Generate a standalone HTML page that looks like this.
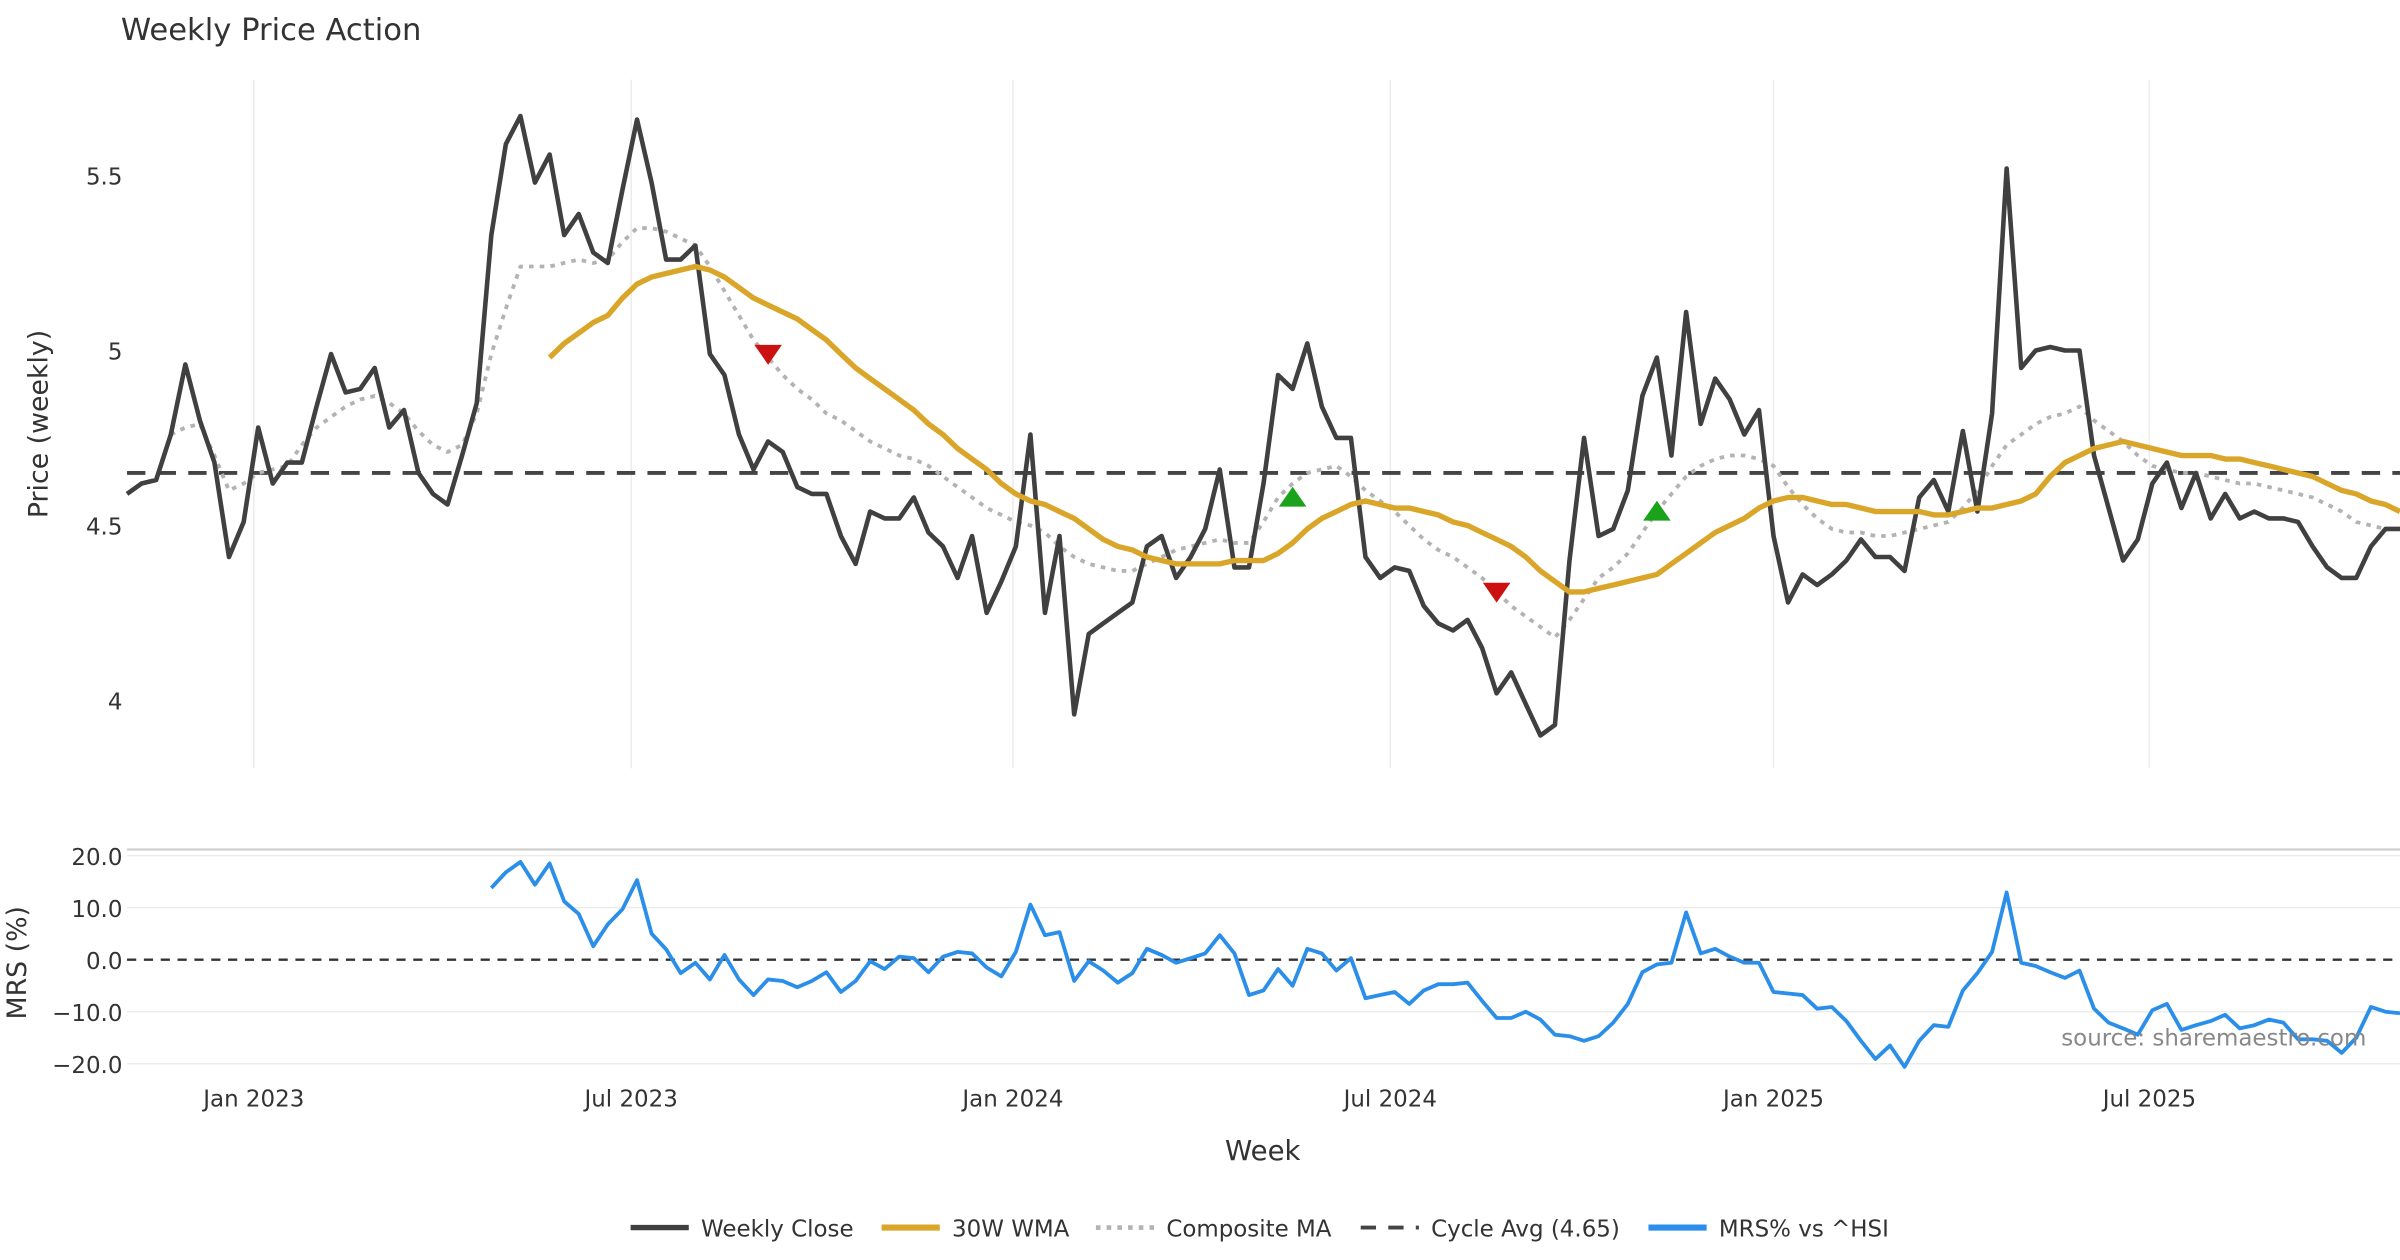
<!DOCTYPE html>
<html><head><meta charset="utf-8"><style>
html,body{margin:0;padding:0;background:#fff;}
svg{display:block;font-family:"DejaVu Sans","Liberation Sans",sans-serif;}
</style></head><body>
<svg id="chart" width="2400" height="1260" viewBox="0 0 1568 823.2" xmlns="http://www.w3.org/2000/svg">
<rect width="1568" height="823.2" fill="#fff"/>
<text x="79" y="26" font-size="20" fill="#333">Weekly Price Action</text>
<g id="grid"></g>
<g id="series"></g>
<g id="labels"></g>
</svg>
<script>
const closes=[4.59,4.62,4.63,4.76,4.96,4.80,4.68,4.41,4.51,4.78,4.62,4.68,4.68,4.84,4.99,4.88,4.89,4.95,4.78,4.83,4.65,4.59,4.56,4.70,4.85,5.33,5.59,5.67,5.48,5.56,5.33,5.39,5.28,5.25,5.46,5.66,5.48,5.26,5.26,5.30,4.99,4.93,4.76,4.66,4.74,4.71,4.61,4.59,4.59,4.47,4.39,4.54,4.52,4.52,4.58,4.48,4.44,4.35,4.47,4.25,4.34,4.44,4.76,4.25,4.47,3.96,4.19,4.22,4.25,4.28,4.44,4.47,4.35,4.41,4.49,4.66,4.38,4.38,4.62,4.93,4.89,5.02,4.84,4.75,4.75,4.41,4.35,4.38,4.37,4.27,4.22,4.20,4.23,4.15,4.02,4.08,3.99,3.90,3.93,4.40,4.75,4.47,4.49,4.60,4.87,4.98,4.70,5.11,4.79,4.92,4.86,4.76,4.83,4.47,4.28,4.36,4.33,4.36,4.40,4.46,4.41,4.41,4.37,4.58,4.63,4.54,4.77,4.54,4.82,5.52,4.95,5.00,5.01,5.00,5.00,4.70,4.55,4.40,4.46,4.62,4.68,4.55,4.65,4.52,4.59,4.52,4.54,4.52,4.52,4.51,4.44,4.38,4.35,4.35,4.44,4.49,4.49];
const wmaStart=29;
const wma=[4.98,5.02,5.05,5.08,5.10,5.15,5.19,5.21,5.22,5.23,5.24,5.23,5.21,5.18,5.15,5.13,5.11,5.09,5.06,5.03,4.99,4.95,4.92,4.89,4.86,4.83,4.79,4.76,4.72,4.69,4.66,4.62,4.59,4.57,4.56,4.54,4.52,4.49,4.46,4.44,4.43,4.41,4.40,4.39,4.39,4.39,4.39,4.40,4.40,4.40,4.42,4.45,4.49,4.52,4.54,4.56,4.57,4.56,4.55,4.55,4.54,4.53,4.51,4.50,4.48,4.46,4.44,4.41,4.37,4.34,4.31,4.31,4.32,4.33,4.34,4.35,4.36,4.39,4.42,4.45,4.48,4.50,4.52,4.55,4.57,4.58,4.58,4.57,4.56,4.56,4.55,4.54,4.54,4.54,4.54,4.53,4.53,4.54,4.55,4.55,4.56,4.57,4.59,4.64,4.68,4.70,4.72,4.73,4.74,4.73,4.72,4.71,4.70,4.70,4.70,4.69,4.69,4.68,4.67,4.66,4.65,4.64,4.62,4.60,4.59,4.57,4.56,4.54];
const compStart=3;
const composite=[4.76,4.78,4.79,4.70,4.60,4.62,4.65,4.66,4.67,4.73,4.78,4.81,4.84,4.86,4.87,4.85,4.82,4.77,4.73,4.71,4.73,4.82,4.99,5.12,5.24,5.24,5.24,5.25,5.26,5.25,5.26,5.31,5.35,5.35,5.34,5.32,5.30,5.24,5.17,5.10,5.03,4.98,4.93,4.89,4.86,4.82,4.80,4.77,4.74,4.72,4.70,4.69,4.67,4.64,4.61,4.58,4.55,4.53,4.51,4.50,4.48,4.44,4.41,4.39,4.38,4.37,4.37,4.39,4.41,4.43,4.44,4.45,4.46,4.45,4.45,4.51,4.58,4.62,4.65,4.66,4.67,4.64,4.60,4.57,4.54,4.50,4.46,4.43,4.41,4.38,4.35,4.31,4.27,4.24,4.21,4.18,4.23,4.29,4.35,4.38,4.42,4.48,4.54,4.59,4.64,4.67,4.69,4.70,4.70,4.69,4.67,4.61,4.56,4.52,4.49,4.48,4.48,4.47,4.47,4.48,4.49,4.50,4.51,4.55,4.60,4.67,4.73,4.76,4.79,4.81,4.82,4.84,4.80,4.77,4.74,4.70,4.67,4.66,4.65,4.65,4.64,4.63,4.62,4.62,4.61,4.60,4.59,4.58,4.56,4.54,4.51,4.50,4.49,4.49];
const mrs=[13.8,16.8,18.8,14.4,18.5,11.2,8.8,2.6,6.8,9.7,15.3,5.0,2.0,-2.6,-0.6,-3.8,0.9,-3.8,-6.8,-3.8,-4.1,-5.3,-4.1,-2.4,-6.2,-4.1,-0.3,-1.8,0.6,0.3,-2.4,0.6,1.5,1.2,-1.5,-3.2,1.5,10.6,4.7,5.3,-4.1,-0.3,-2.1,-4.4,-2.6,2.1,0.9,-0.6,0.3,1.2,4.7,1.2,-6.8,-5.9,-1.8,-5.0,2.1,1.2,-2.1,0.3,-7.4,-6.8,-6.2,-8.5,-5.9,-4.7,-4.7,-4.4,-7.9,-11.2,-11.2,-10.0,-11.5,-14.4,-14.7,-15.6,-14.7,-12.1,-8.5,-2.4,-0.9,-0.6,9.1,1.2,2.1,0.6,-0.6,-0.6,-6.2,-6.5,-6.8,-9.4,-9.1,-11.8,-15.6,-19.1,-16.5,-20.6,-15.6,-12.6,-12.9,-5.9,-2.6,1.5,12.9,-0.6,-1.2,-2.4,-3.5,-2.1,-9.4,-12.1,-13.2,-14.4,-9.7,-8.5,-13.5,-12.6,-11.8,-10.6,-13.2,-12.6,-11.5,-12.1,-15.3,-15.3,-15.6,-17.9,-15.0,-9.1,-10.0,-10.3];
const cycleAvg=4.65;
const sellIdx=[44,94];
const sellVal=[4.99,4.31];
const buyIdx=[80,105];
const buyVal=[4.58,4.54];
const priceTicks=[4,4.5,5,5.5];
const priceTickLabels=["4","4.5","5","5.5"];
const mrsTicks=[20,10,0,-10,-20];
const mrsTickLabels=["20.0","10.0","0.0","\u221210.0","\u221220.0"];
const monthIdx=[8.7,34.6,60.8,86.7,113,138.8];
const monthLabels=["Jan 2023","Jul 2023","Jan 2024","Jul 2024","Jan 2025","Jul 2025"];

const NS="http://www.w3.org/2000/svg";
const X0=83,X1=1568;
const n=closes.length;
function xs(i){return X0+i*(X1-X0)/(n-1);}
function yp(v){return 229-(v-5)*228.6;}
function ym(v){return 627-v*3.4;}
function el(tag,attrs,parent,text){const e=document.createElementNS(NS,tag);for(const k in attrs)e.setAttribute(k,attrs[k]);if(text!==undefined)e.textContent=text;parent.appendChild(e);return e;}
const gridG=document.getElementById('grid'),ser=document.getElementById('series'),lab=document.getElementById('labels');

monthIdx.forEach((m,k)=>{
  const g=el('line',{x1:xs(m),x2:xs(m),y1:52,y2:502,stroke:'#ececec','stroke-width':1},gridG);
  
  
  const t=el('text',{x:xs(m),y:723,'font-size':15,fill:'#333','text-anchor':'middle'},lab,monthLabels[k]);
  
  
});
priceTicks.forEach((v,k)=>{
  const t=el('text',{x:80,y:yp(v)+6,'font-size':15,fill:'#333','text-anchor':'end'},lab,priceTickLabels[k]);
  
  
});
const mrsTopLine=el('line',{x1:X0,x2:X1,y1:555,y2:555,stroke:'#cfcfcf','stroke-width':1.5},gridG);


mrsTicks.forEach((v,k)=>{
  if(v!==0){
    const g=el('line',{x1:X0,x2:X1,y1:ym(v),y2:ym(v),stroke:'#ececec','stroke-width':1},gridG);
    
    
  }
  const t=el('text',{x:80,y:ym(v)+6,'font-size':15,fill:'#333','text-anchor':'end'},lab,mrsTickLabels[k]);
  
  
});
const zeroLine=el('line',{x1:X0,x2:X1,y1:ym(0),y2:ym(0),stroke:'#333','stroke-width':1.5,'stroke-dasharray':'6,5'},gridG);


const caLine=el('line',{x1:X0,x2:X1,y1:yp(cycleAvg),y2:yp(cycleAvg),stroke:'#444','stroke-width':2.5,'stroke-dasharray':'12,8'},ser);



function drawPath(vals,start,yf,attrs,name){
  const d=vals.map((v,k)=>(k?'L':'M')+xs(start+k).toFixed(1)+','+yf(v).toFixed(1)).join(' ');
  const p=el('path',Object.assign({d:d,fill:'none','stroke-linejoin':'round'},attrs),ser);
  
  
}
drawPath(composite,compStart,yp,{stroke:'#b3b3b3','stroke-width':2.5,'stroke-dasharray':'3,4'},'composite-ma-line');
drawPath(closes,0,yp,{stroke:'#404040','stroke-width':3},'weekly-close-line');
drawPath(wma,wmaStart,yp,{stroke:'#d9a62a','stroke-width':3.5},'wma-30w-line');
drawPath(mrs,n-mrs.length,ym,{stroke:'#2b8fe9','stroke-width':2.5},'mrs-line');

sellIdx.forEach((i,k)=>{
  const x=xs(i),y=yp(sellVal[k]);
  const p=el('polygon',{points:`${x-9},${y-6} ${x+9},${y-6} ${x},${y+7}`,fill:'#cc1111'},ser);
  
  
});
buyIdx.forEach((i,k)=>{
  const x=xs(i),y=yp(buyVal[k]);
  const p=el('polygon',{points:`${x-9},${y+6} ${x+9},${y+6} ${x},${y-7}`,fill:'#1aa31a'},ser);
  
  
});

const yTitle=el('text',{x:0,y:0,'font-size':17.5,fill:'#333','text-anchor':'middle',transform:'translate(31,277) rotate(-90)'},lab,'Price (weekly)');


const mTitle=el('text',{x:0,y:0,'font-size':17.5,fill:'#333','text-anchor':'middle',transform:'translate(17,629) rotate(-90)'},lab,'MRS (%)');


const xTitle=el('text',{x:825,y:758,'font-size':18,fill:'#333','text-anchor':'middle'},lab,'Week');


const srcNote=el('text',{x:1546,y:683,'font-size':15,fill:'#888','text-anchor':'end'},lab,'source: sharemaestro.com');



const legendLabels=['Weekly Close','30W WMA','Composite MA','Cycle Avg (4.65)','MRS% vs ^HSI'];
const legendX=[412,576,716,889,1077];
const legendStyle=[{stroke:'#404040','stroke-width':3.5},{stroke:'#d9a62a','stroke-width':4},{stroke:'#b3b3b3','stroke-width':3,'stroke-dasharray':'3,4'},{stroke:'#444','stroke-width':2.5,'stroke-dasharray':'10,8'},{stroke:'#2b8fe9','stroke-width':4}];
legendLabels.forEach((s,k)=>{
  const g=el('g',{},lab);
  
  
  el('line',Object.assign({x1:legendX[k],x2:legendX[k]+38,y1:802,y2:802},legendStyle[k]),g);
  el('text',{x:legendX[k]+46,y:808,'font-size':15,fill:'#333'},g,s);
});
</script>
</body></html>
